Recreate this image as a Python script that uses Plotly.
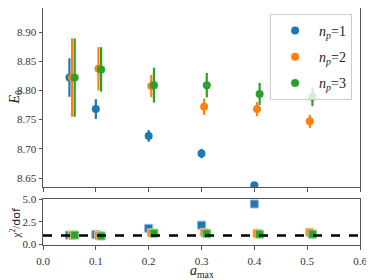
import plotly.graph_objects as go

# ---- data ----
x_np1 = [0.05, 0.10, 0.20, 0.30, 0.40]
e0_np1 = [8.822, 8.768, 8.722, 8.692, 8.6375]
err_np1 = [0.033, 0.017, 0.010, 0.008, 0.005]
chi_np1 = [1.05, 1.1, 1.8, 2.15, 4.5]

x_np2 = [0.055, 0.105, 0.205, 0.305, 0.405, 0.505]
e0_np2 = [8.822, 8.837, 8.8075, 8.772, 8.768, 8.747]
err_np2 = [0.067, 0.037, 0.019, 0.014, 0.012, 0.011]
chi_np2 = [1.05, 1.0, 1.3, 1.35, 1.25, 1.35]

x_np3 = [0.06, 0.11, 0.21, 0.31, 0.41, 0.51]
e0_np3 = [8.822, 8.836, 8.809, 8.809, 8.794, 8.789]
err_np3 = [0.067, 0.038, 0.030, 0.021, 0.019, 0.016]
chi_np3 = [1.05, 0.95, 1.25, 1.2, 1.15, 1.15]

series_names = ["<i>n</i><sub><i>p</i></sub>=1", "<i>n</i><sub><i>p</i></sub>=2", "<i>n</i><sub><i>p</i></sub>=3"]
chi2_ref = 1.0

x_ticks = [0.0, 0.1, 0.2, 0.3, 0.4, 0.5, 0.6]
e0_ticks = [8.65, 8.70, 8.75, 8.80, 8.85, 8.90]
chi_ticks = [0.0, 2.5, 5.0]

colors = ["#1f77b4", "#ff7f0e", "#2ca02c"]
edge = ["#8fbbd9", "#ffbf86", "#95cf95"]

FONT = "Liberation Serif"
AX = "#555555"

fig = go.Figure()
data = [(x_np1, e0_np1, err_np1, chi_np1), (x_np2, e0_np2, err_np2, chi_np2), (x_np3, e0_np3, err_np3, chi_np3)]
for i, (xs, ys, es, cs) in enumerate(data):
    fig.add_trace(go.Scatter(
        x=xs, y=ys, mode="markers", name=series_names[i], legendgroup="g%d" % i,
        marker=dict(symbol="circle", size=8, color=colors[i]),
        error_y=dict(type="data", array=es, visible=True, thickness=2.2, width=0, color=colors[i]),
        xaxis="x", yaxis="y", showlegend=True,
    ))
for i, (xs, ys, es, cs) in enumerate(data):
    fig.add_trace(go.Scatter(
        x=xs, y=cs, mode="markers", showlegend=False,
        marker=dict(symbol="square", size=8, color=colors[i], line=dict(color=edge[i], width=1)),
        xaxis="x2", yaxis="y2",
    ))

fig.add_shape(type="line", xref="x2 domain", yref="y2", x0=0, x1=1, y0=chi2_ref, y1=chi2_ref,
              line=dict(color="black", width=2.5, dash="dash"), layer="above")

axis_common = dict(showgrid=False, zeroline=False, showline=True, linecolor=AX, linewidth=1,
                   mirror=True, ticks="outside", ticklen=3.5, tickcolor=AX,
                   tickfont=dict(family=FONT, size=11, color="#333333"))

# the page adds an 8px body margin; the figure is sized to fit the 374x280 window
fig.update_layout(
    width=366, height=272,
    margin=dict(l=35, r=14, t=0, b=35, autoexpand=False),
    plot_bgcolor="white", paper_bgcolor="white",
    font=dict(family=FONT, color="#222222"),
    xaxis=dict(domain=[0, 1], range=[0, 0.6], tickvals=x_ticks, showticklabels=False, anchor="y", **axis_common),
    yaxis=dict(domain=[0.2447, 1], range=[8.6346, 8.9411], tickvals=e0_ticks, tickformat=".2f",
               anchor="x", **axis_common),
    xaxis2=dict(domain=[0, 1], range=[0, 0.6], tickvals=x_ticks, tickformat=".1f", anchor="y2",
                ticklabelstandoff=2, **axis_common),
    yaxis2=dict(domain=[0, 0.1941], range=[-0.05, 5.05], tickvals=chi_ticks, tickformat=".1f",
                anchor="x2", **axis_common),
    legend=dict(x=0.975, y=0.975, xanchor="right", yanchor="top",
                bgcolor="rgba(255,255,255,0.8)", bordercolor="#cccccc", borderwidth=1,
                font=dict(family=FONT, size=14, color="#222222"), itemwidth=38,
                traceorder="grouped", tracegroupgap=5),
)
fig.add_annotation(text="<i>a</i><sub>max</sub>", xref="paper", yref="paper", x=0.5, y=-0.112,
                   xanchor="center", yanchor="middle", showarrow=False,
                   font=dict(family=FONT, size=14, color="#222222"))
fig.add_annotation(text="<i>E</i><sub>0</sub>", xref="paper", yref="paper", x=-0.087, y=0.624,
                   xanchor="center", yanchor="middle", showarrow=False, textangle=-90,
                   font=dict(family=FONT, size=14, color="#222222"))
fig.add_annotation(text="χ<sup>2</sup>/<span style='font-family:DejaVu Sans'>dof</span>",
                   xref="paper", yref="paper", x=-0.087, y=0.097,
                   xanchor="center", yanchor="middle", showarrow=False, textangle=-90,
                   font=dict(family=FONT, size=11, color="#222222"))

fig.write_html("out.html")
